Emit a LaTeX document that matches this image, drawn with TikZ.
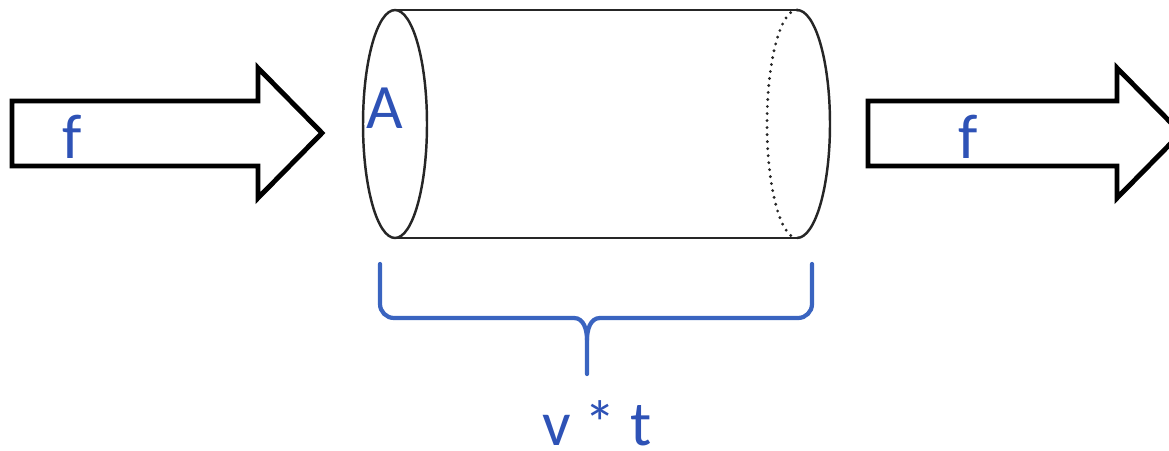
\documentclass[tikz,border=0pt]{standalone}
\usepackage{fontspec}
\setmainfont{Carlito}
\usetikzlibrary{positioning, calc}
\definecolor{labelblue}{RGB}{46,82,182}
\definecolor{braceblue}{RGB}{58,100,192}

\begin{document}
\begin{tikzpicture}[x=0.02cm, y=-0.02cm,
  flowarrow/.style={draw=black, line width=2.8pt, fill=white, line join=miter},
  tube/.style={draw=black!85, line width=1.4pt},
  lbl/.style={text=labelblue, font=\fontsize{36}{43}\selectfont, inner sep=0pt, anchor=base},
  brace/.style={draw=braceblue, line width=2.4pt, line cap=round}]
  \useasboundingbox (0,0) rectangle (1169,450);

  % incoming and outgoing flow
  \draw[flowarrow] (12,101) -- (258,101) -- (258,68) -- (322,133) -- (258,198) -- (258,166) -- (12,166) -- cycle;
  \draw[flowarrow] (868,101) -- (1117,101) -- (1117,68) -- (1181,133) -- (1117,198) -- (1117,166) -- (868,166) -- cycle;
  \node[lbl] (fin) at (72,158) {f};
  \node[lbl] (fout) at (968,158) {f};

  % cylinder
  \coordinate (front) at (395,124);
  \coordinate (back) at (797,124);
  \draw[tube] (front) ellipse [x radius=0.64cm, y radius=2.28cm];
  \draw[tube] (395,10) -- (797,10);
  \draw[tube] (395,238) -- (797,238);
  \draw[tube] (797,10) arc [start angle=90, end angle=-90, x radius=0.66cm, y radius=2.28cm];
  \draw[tube, line width=1.8pt, line cap=round, dash pattern=on 0pt off 4pt] (797,10) arc [start angle=90, end angle=270, x radius=0.6cm, y radius=2.28cm];
  \node[lbl] (area) at (385,128) {A};

  % length of the tube
  \draw[brace] (380,264) -- (380,304) to[out=-90, in=180] (394,318) -- (574,318)
    to[out=0, in=90] (587,340) -- (587,374);
  \draw[brace] (812,264) -- (812,304) to[out=-90, in=0] (798,318) -- (600,318)
    to[out=180, in=90] (587,340);
  \node[lbl] (length) at (597,445) {v * t};
\end{tikzpicture}
\end{document}
